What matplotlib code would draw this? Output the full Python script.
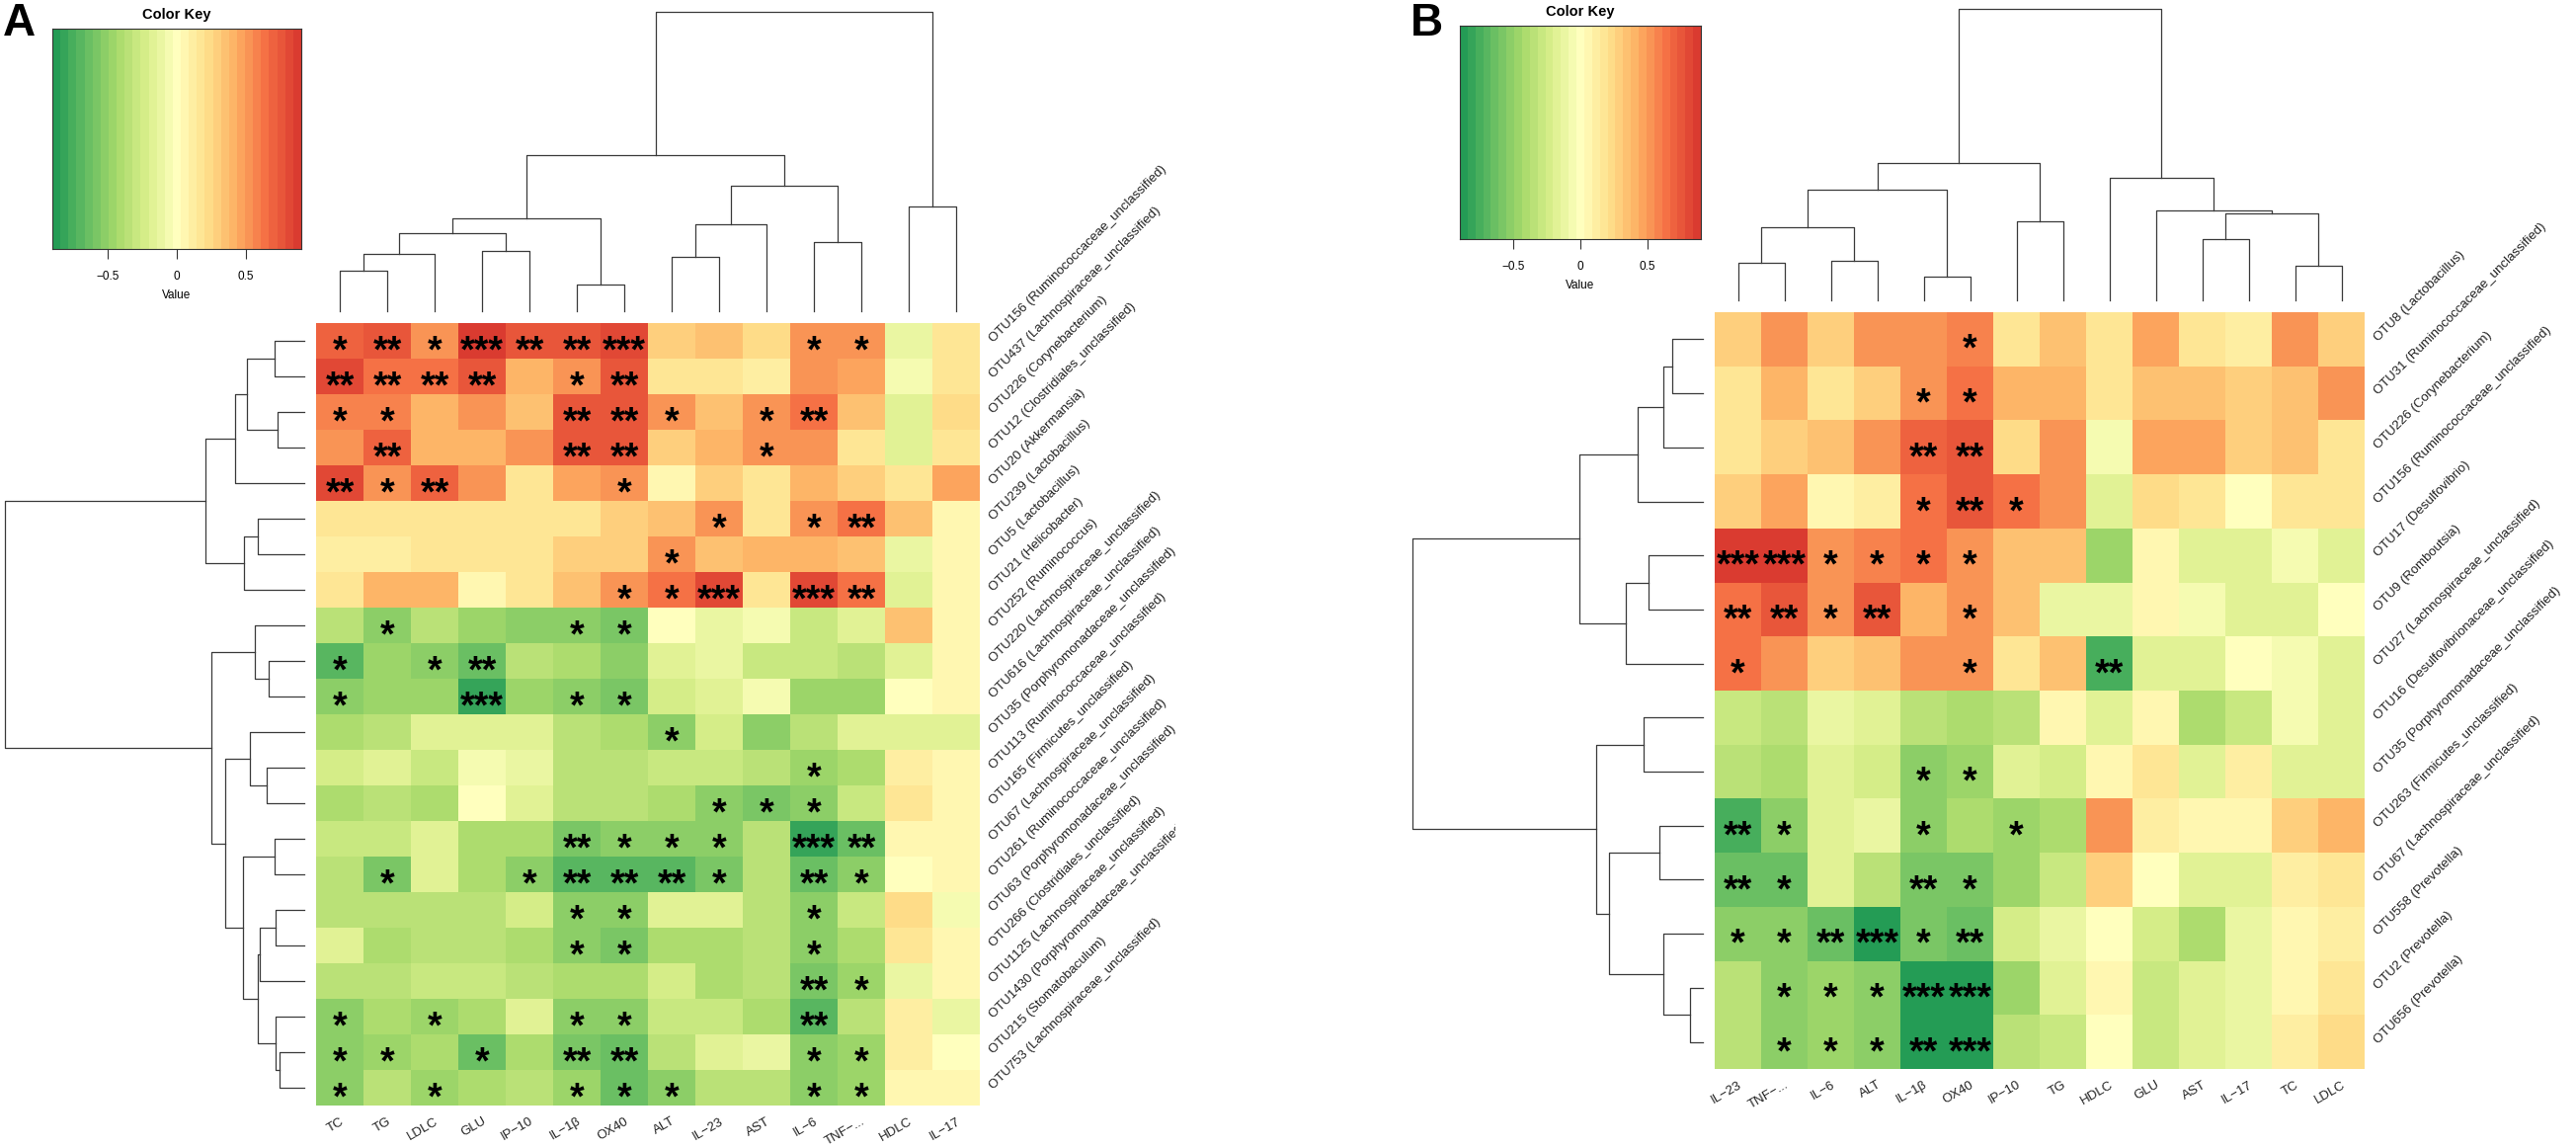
import matplotlib
matplotlib.use("Agg")
import matplotlib.pyplot as plt
import numpy as np
from matplotlib.colors import LinearSegmentedColormap, ListedColormap
from matplotlib.transforms import offset_copy, Bbox, TransformedBbox

plt.rcParams['font.family'] = ['Liberation Sans', 'DejaVu Sans']

W, H = 2608, 1162

# ---------------- panel A data ----------------
cols_a = ["TC", "TG", "LDLC", "GLU", "IP\u221210", "IL\u22121\u03b2", "OX40", "ALT",
          "IL\u221223", "AST", "IL\u22126", "TNF\u2212...", "HDLC", "IL\u221217"]
rows_a = ["OTU156 (Ruminococcaceae_unclassified)", "OTU437 (Lachnospiraceae_unclassified)",
          "OTU226 (Corynebacterium)", "OTU12 (Clostridiales_unclassified)",
          "OTU20 (Akkermansia)", "OTU239 (Lactobacillus)", "OTU5 (Lactobacillus)",
          "OTU21 (Helicobacter)", "OTU252 (Ruminococcus)",
          "OTU220 (Lachnospiraceae_unclassified)", "OTU616 (Lachnospiraceae_unclassified)",
          "OTU35 (Porphyromonadaceae_unclassified)", "OTU113 (Ruminococcaceae_unclassified)",
          "OTU165 (Firmicutes_unclassified)", "OTU67 (Lachnospiraceae_unclassified)",
          "OTU261 (Ruminococcaceae_unclassified)", "OTU63 (Porphyromonadaceae_unclassified)",
          "OTU266 (Clostridiales_unclassified)", "OTU1125 (Lachnospiraceae_unclassified)",
          "OTU1430 (Porphyromonadaceae_unclassified)", "OTU215 (Stomatobaculum)",
          "OTU753 (Lachnospiraceae_unclassified)"]
values_a = [
    [0.70, 0.75, 0.55, 0.85, 0.75, 0.75, 0.80, 0.30, 0.35, 0.25, 0.50, 0.50, -0.10, 0.15],
    [0.80, 0.65, 0.65, 0.75, 0.40, 0.55, 0.75, 0.20, 0.20, 0.10, 0.50, 0.45, -0.05, 0.20],
    [0.60, 0.60, 0.40, 0.50, 0.35, 0.75, 0.75, 0.55, 0.35, 0.50, 0.65, 0.35, -0.20, 0.25],
    [0.55, 0.70, 0.40, 0.40, 0.50, 0.75, 0.75, 0.30, 0.40, 0.50, 0.50, 0.15, -0.20, 0.20],
    [0.80, 0.55, 0.70, 0.50, 0.15, 0.45, 0.50, 0.05, 0.30, 0.15, 0.40, 0.30, 0.20, 0.45],
    [0.20, 0.20, 0.20, 0.20, 0.20, 0.20, 0.30, 0.35, 0.55, 0.20, 0.55, 0.65, 0.35, 0.05],
    [0.10, 0.10, 0.20, 0.20, 0.20, 0.30, 0.30, 0.50, 0.35, 0.40, 0.40, 0.35, -0.10, 0.05],
    [0.20, 0.40, 0.40, 0.05, 0.20, 0.35, 0.50, 0.65, 0.80, 0.20, 0.80, 0.65, -0.15, 0.05],
    [-0.35, -0.50, -0.35, -0.45, -0.50, -0.50, -0.60, 0.00, -0.10, -0.05, -0.30, -0.15, 0.35, 0.05],
    [-0.70, -0.45, -0.50, -0.65, -0.35, -0.40, -0.55, -0.15, -0.10, -0.30, -0.30, -0.35, -0.20, 0.05],
    [-0.55, -0.45, -0.45, -0.80, -0.45, -0.50, -0.60, -0.25, -0.20, -0.05, -0.45, -0.45, 0.00, 0.05],
    [-0.40, -0.35, -0.20, -0.15, -0.15, -0.35, -0.40, -0.55, -0.25, -0.50, -0.35, -0.15, -0.20, -0.15],
    [-0.25, -0.20, -0.30, -0.05, -0.10, -0.35, -0.35, -0.30, -0.30, -0.35, -0.45, -0.40, 0.10, 0.05],
    [-0.40, -0.35, -0.40, 0.00, -0.15, -0.35, -0.35, -0.40, -0.55, -0.60, -0.55, -0.30, 0.20, 0.05],
    [-0.30, -0.30, -0.15, -0.40, -0.40, -0.60, -0.50, -0.50, -0.50, -0.35, -0.80, -0.65, 0.05, 0.05],
    [-0.35, -0.60, -0.15, -0.40, -0.55, -0.70, -0.70, -0.70, -0.60, -0.35, -0.65, -0.50, 0.00, 0.05],
    [-0.35, -0.35, -0.35, -0.35, -0.25, -0.55, -0.50, -0.15, -0.20, -0.35, -0.55, -0.30, 0.25, -0.05],
    [-0.20, -0.40, -0.35, -0.35, -0.40, -0.55, -0.60, -0.40, -0.40, -0.35, -0.55, -0.40, 0.20, 0.05],
    [-0.35, -0.35, -0.30, -0.30, -0.35, -0.40, -0.40, -0.25, -0.40, -0.35, -0.60, -0.45, -0.10, 0.05],
    [-0.55, -0.40, -0.45, -0.40, -0.20, -0.55, -0.55, -0.30, -0.30, -0.40, -0.70, -0.35, 0.10, -0.10],
    [-0.50, -0.45, -0.40, -0.65, -0.40, -0.60, -0.65, -0.35, -0.20, -0.10, -0.55, -0.45, 0.10, 0.00],
    [-0.50, -0.35, -0.45, -0.40, -0.35, -0.45, -0.65, -0.50, -0.35, -0.35, -0.50, -0.45, 0.05, 0.05],
]
# number of significance stars per cell, one string per row
stars_a = ["12132230001100", "22220120000000", "11000221012000", "02000220010000",
           "21200010000000", "00000000101200", "00000001000000", "00000011303200",
           "01000110000000", "10120000000000", "10030110000000", "00000001000000",
           "00000000001000", "00000000111000", "00000211103200", "01001222102100",
           "00000110001000", "00000110001000", "00000000002100", "10100110002000",
           "11010220001100", "10100111001100"]
# dendrograms: (child a, child b, height); children >= n are earlier merges
col_tree_a = [(0, 1, 0.135), (14, 2, 0.19), (3, 4, 0.20), (15, 16, 0.26), (5, 6, 0.09),
              (17, 18, 0.31), (7, 8, 0.18), (20, 9, 0.29), (10, 11, 0.23), (21, 22, 0.42),
              (19, 23, 0.52), (12, 13, 0.35), (24, 25, 1.0)]
row_tree_a = [(0, 1, 0.099), (2, 3, 0.089), (22, 23, 0.19), (24, 4, 0.23), (5, 6, 0.155),
              (26, 7, 0.20), (25, 27, 0.33), (9, 10, 0.12), (8, 29, 0.165), (12, 13, 0.125),
              (11, 31, 0.18), (14, 15, 0.10), (16, 17, 0.095), (34, 18, 0.15),
              (20, 21, 0.083), (19, 36, 0.095), (35, 37, 0.155), (33, 38, 0.205),
              (32, 39, 0.264), (30, 40, 0.31), (28, 41, 1.0)]

# ---------------- panel B data ----------------
cols_b = ["IL\u221223", "TNF\u2212...", "IL\u22126", "ALT", "IL\u22121\u03b2", "OX40", "IP\u221210",
          "TG", "HDLC", "GLU", "AST", "IL\u221217", "TC", "LDLC"]
rows_b = ["OTU8 (Lactobacillus)", "OTU31 (Ruminococcaceae_unclassified)",
          "OTU226 (Corynebacterium)", "OTU156 (Ruminococcaceae_unclassified)",
          "OTU17 (Desulfovibrio)", "OTU9 (Romboutsia)",
          "OTU27 (Lachnospiraceae_unclassified)", "OTU16 (Desulfovibrionaceae_unclassified)",
          "OTU35 (Porphyromonadaceae_unclassified)", "OTU263 (Firmicutes_unclassified)",
          "OTU67 (Lachnospiraceae_unclassified)", "OTU558 (Prevotella)",
          "OTU2 (Prevotella)", "OTU656 (Prevotella)"]
values_b = [
    [0.30, 0.50, 0.30, 0.55, 0.50, 0.60, 0.20, 0.35, 0.15, 0.45, 0.20, 0.10, 0.50, 0.30],
    [0.20, 0.40, 0.20, 0.30, 0.55, 0.65, 0.40, 0.40, 0.15, 0.35, 0.35, 0.30, 0.35, 0.50],
    [0.20, 0.30, 0.35, 0.50, 0.70, 0.75, 0.25, 0.50, -0.05, 0.45, 0.45, 0.30, 0.35, 0.20],
    [0.30, 0.45, 0.05, 0.10, 0.65, 0.75, 0.65, 0.50, -0.15, 0.25, 0.15, 0.00, 0.20, 0.20],
    [0.85, 0.85, 0.55, 0.60, 0.65, 0.55, 0.35, 0.35, -0.45, 0.05, -0.15, -0.20, -0.05, -0.15],
    [0.65, 0.75, 0.55, 0.75, 0.40, 0.55, 0.35, -0.10, -0.10, 0.05, -0.05, -0.20, -0.15, 0.00],
    [0.65, 0.50, 0.30, 0.35, 0.50, 0.50, 0.20, 0.35, -0.75, -0.15, -0.15, 0.00, -0.05, -0.15],
    [-0.30, -0.35, -0.10, -0.15, -0.35, -0.40, -0.35, 0.05, -0.20, 0.05, -0.40, -0.30, -0.05, -0.15],
    [-0.35, -0.40, -0.20, -0.25, -0.55, -0.45, -0.20, -0.25, 0.05, 0.15, -0.15, 0.10, -0.20, -0.20],
    [-0.75, -0.50, -0.20, -0.10, -0.50, -0.40, -0.45, -0.40, 0.55, 0.10, 0.05, 0.05, 0.30, 0.40],
    [-0.65, -0.65, -0.15, -0.35, -0.60, -0.60, -0.45, -0.30, 0.30, 0.00, -0.20, -0.20, 0.10, 0.20],
    [-0.55, -0.55, -0.65, -0.85, -0.60, -0.65, -0.25, -0.10, 0.00, -0.25, -0.40, -0.10, 0.05, 0.10],
    [-0.35, -0.55, -0.45, -0.55, -0.85, -0.85, -0.45, -0.20, 0.05, -0.30, -0.15, -0.10, 0.05, 0.15],
    [-0.35, -0.55, -0.45, -0.55, -0.85, -0.85, -0.35, -0.30, 0.00, -0.30, -0.15, -0.10, 0.10, 0.25],
]
stars_b = ["00000100000000", "00001100000000", "00002200000000", "00001210000000",
           "33111100000000", "22120100000000", "10000100200000", "00000000000000",
           "00001100000000", "21001010000000", "21002100000000", "11231200000000",
           "01113300000000", "01112300000000"]
col_tree_b = [(0, 1, 0.13), (2, 3, 0.135), (14, 15, 0.25), (4, 5, 0.08), (16, 17, 0.38),
              (6, 7, 0.27), (18, 19, 0.47), (10, 11, 0.21), (12, 13, 0.12), (21, 22, 0.30),
              (9, 23, 0.31), (8, 24, 0.42), (20, 25, 1.0)]
row_tree_b = [(0, 1, 0.105), (14, 2, 0.135), (15, 3, 0.224), (4, 5, 0.186), (17, 6, 0.264),
              (16, 18, 0.424), (7, 8, 0.203), (9, 10, 0.149), (12, 13, 0.044), (11, 22, 0.136),
              (21, 23, 0.322), (20, 24, 0.366), (19, 25, 1.0)]

key_range = (-0.9, 0.9)
key_ticks = [-0.5, 0, 0.5]

# colour scale green - pale yellow - red, in bands like the R key
base = LinearSegmentedColormap.from_list(
    "gyr", ["#249c55", "#66bd63", "#a6d96a", "#d9ef8b", "#ffffbf",
            "#fee08b", "#fdae61", "#f46d43", "#da3b30"])
cmap = ListedColormap(base(np.linspace(0, 1, 31)))

fig = plt.figure(figsize=(W / 100, H / 100), dpi=100)


def px_axes(x0, y0, x1, y1):
    return fig.add_axes([x0 / W, 1 - y1 / H, (x1 - x0) / W, (y1 - y0) / H])


def tree_lines(n, merges):
    pos = {i: i + 0.5 for i in range(n)}
    hgt = {i: 0.0 for i in range(n)}
    out = []
    for k, (a, b, h) in enumerate(merges):
        out.append(([pos[a], pos[a], pos[b], pos[b]], [hgt[a], h, h, hgt[b]]))
        pos[n + k] = (pos[a] + pos[b]) / 2
        hgt[n + k] = h
    return out


def panel(letter, lx, key_box, heat_box, col_top, row_left, cols, rows, vals, stars,
          col_tree, row_tree, label_clip):
    nr, nc = len(rows), len(cols)
    hx0, hy0, hx1, hy1 = heat_box

    fig.text(lx / W, 1 - 2 / H, letter, fontsize=33, fontweight='bold', ha='left', va='top')

    # colour key
    kx0, ky0, kx1, ky1 = key_box
    axk = px_axes(kx0, ky0, kx1, ky1)
    edges = np.linspace(key_range[0], key_range[1], cmap.N + 1)
    axk.pcolormesh(edges, [0, 1], ((edges[:-1] + edges[1:]) / 2)[None, :], cmap=cmap,
                   vmin=key_range[0], vmax=key_range[1])
    axk.set_xlim(key_range)
    axk.set_ylim(0, 1)
    axk.set_yticks([])
    axk.set_xticks(key_ticks)
    axk.set_xticklabels(["\u22120.5", "0", "0.5"], fontsize=8.5)
    axk.tick_params(axis='x', length=7, width=0.8, pad=9, color='#333333')
    for s in axk.spines.values():
        s.set_linewidth(0.8)
        s.set_color('#333333')
    axk.set_xlabel("Value", fontsize=8.5, labelpad=5)
    axk.set_title("Color Key", fontsize=10.5, fontweight='bold', pad=7)

    # heatmap
    ax = px_axes(hx0, hy0, hx1, hy1)
    ax.pcolormesh(np.arange(nc + 1), np.arange(nr + 1), np.array(vals), cmap=cmap,
                  vmin=key_range[0], vmax=key_range[1])
    ax.set_xlim(0, nc)
    ax.set_ylim(nr, 0)
    ax.axis('off')

    star_tr = offset_copy(ax.transData, fig=fig, x=0, y=-15.5, units='points')
    for i in range(nr):
        for j in range(nc):
            k = int(stars[i][j])
            if k:
                ax.text(j + 0.5, i + 0.5, "*" * k, transform=star_tr, ha='center',
                        va='baseline', fontsize=27, fontweight='bold', color='black')

    col_tr = offset_copy(ax.transData, fig=fig, x=0, y=-10, units='dots')
    for j, c in enumerate(cols):
        ax.text(j + 0.5, nr, c, transform=col_tr, ha='right', va='top', rotation=30,
                rotation_mode='anchor', fontsize=9.5, color='#222222')

    clip = TransformedBbox(Bbox([[0, 0], [label_clip / W, 1]]), fig.transFigure)
    row_tr = offset_copy(ax.transData, fig=fig, x=12, y=0, units='dots')
    for i, r in enumerate(rows):
        t = ax.text(nc, i + 0.5, r, transform=row_tr, ha='left', va='center', rotation=45,
                    rotation_mode='anchor', fontsize=9.5, color='#222222')
        t.set_clip_box(clip)
        t.set_clip_on(True)

    # column dendrogram
    axc = px_axes(hx0, col_top, hx1, hy0 - 12)
    for xs, ys in tree_lines(nc, col_tree):
        axc.plot(xs, ys, color='#3a3a3a', lw=0.9, clip_on=False)
    axc.set_xlim(0, nc)
    axc.set_ylim(0, 1)
    axc.axis('off')

    # row dendrogram
    axr = px_axes(row_left, hy0, hx0 - 12, hy1)
    for ys, xs in tree_lines(nr, row_tree):
        axr.plot(xs, ys, color='#3a3a3a', lw=0.9, clip_on=False)
    axr.set_xlim(1, 0)
    axr.set_ylim(nr, 0)
    axr.axis('off')


panel("A", 3, (53, 29, 305, 252), (320, 327, 992, 1119), 12, 5,
      cols_a, rows_a, values_a, stars_a, col_tree_a, row_tree_a, 1190)
panel("B", 1428, (1478, 26, 1722, 242), (1736, 316, 2394, 1082), 9, 1430,
      cols_b, rows_b, values_b, stars_b, col_tree_b, row_tree_b, W)

fig.savefig("out.png", dpi=100)
